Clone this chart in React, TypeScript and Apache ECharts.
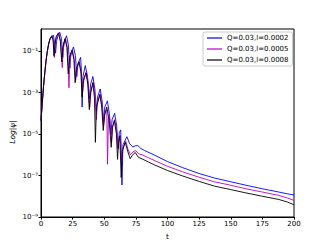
import React, { useEffect, useRef } from "react";
import * as echarts from "echarts";

const seriesNames = ["Q=0.03,l=0.0002", "Q=0.03,l=0.0005", "Q=0.03,l=0.0008"];
const seriesColors = ["#0000ff", "#bf00bf", "#000000"];
const xTicks = [0, 25, 50, 75, 100, 125, 150, 175, 200];

const blueData: [number, number][] = [
  [0, 4.5e-5], [1, 3e-4], [2, 2e-3], [3, 9e-3], [4, 3.4e-2], [5, 0.095], [6, 0.2], [7, 0.35],
  [8.5, 0.5], [9.8, 0.58], [10.8, 0.25], [11.5, 0.08], [12.3, 0.3], [13.5, 0.6], [14.8, 0.82],
  [16.2, 0.4], [17.2, 0.05], [18, 0.25], [20.2, 0.55], [21.6, 0.2], [22.8, 0.015], [23.6, 0.08],
  [25.7, 0.16], [27.2, 0.06], [28.3, 6e-3], [29.2, 0.025], [31.3, 0.05], [32, 0.01], [32.5, 2e-4],
  [33.2, 6e-3], [35, 2e-2], [36.8, 6e-3], [38.3, 5e-4], [39.2, 2.5e-3], [41, 6e-3], [42.6, 1.5e-3],
  [43.8, 1.2e-4], [44.7, 6e-4], [46.8, 1.5e-3], [48.3, 4e-4], [49.5, 4e-5], [50.4, 2e-4],
  [52.5, 4e-4], [54, 1e-4], [55.3, 1e-5], [56.2, 5e-5], [58.2, 1e-4], [59.8, 2.5e-5], [61, 2e-6],
  [61.9, 1.2e-5], [63, 1.6e-5], [64, 3.5e-8], [64.8, 3e-6], [67.9, 7.5e-6], [70, 3.5e-6],
  [72.5, 2.4e-6], [74.5, 2.7e-6], [76.5, 2.8e-6], [79, 2e-6], [82, 1.6e-6], [90, 9.5e-7],
  [100, 4.7e-7], [112, 2.4e-7], [125, 1.25e-7], [137, 7.6e-8], [150, 5e-8], [162, 3.4e-8],
  [175, 2.3e-8], [188, 1.6e-8], [195, 1.3e-8], [200, 1.15e-8],
];

const magentaData: [number, number][] = [
  [0, 4.5e-5], [1, 3e-4], [2, 2e-3], [3, 9e-3], [4, 3.5e-2], [5, 0.1], [6, 0.22], [7, 0.38],
  [8.7, 0.55], [9.7, 0.35], [10.5, 0.05], [11.2, 0.2], [12.2, 0.5], [14, 0.78], [15.5, 0.3],
  [16.8, 0.016], [17.5, 0.12], [19.3, 0.42], [20.8, 0.15], [22.1, 1.7e-3], [22.9, 0.04],
  [24.8, 0.12], [26.3, 0.04], [27.4, 4e-3], [28.4, 0.016], [30.3, 0.032], [31.8, 0.01],
  [32.9, 1e-3], [33.9, 4e-3], [35.8, 1e-2], [37.3, 2.8e-3], [38.5, 2e-4], [39.5, 1.1e-3],
  [41.3, 3.2e-3], [42.8, 6e-4], [43.8, 5e-5], [44.5, 3e-4], [46.8, 9e-4], [48.3, 2.2e-4],
  [49.5, 2.5e-5], [50.5, 1e-4], [52, 1.5e-4], [52.6, 3.5e-7], [53.3, 6e-5], [54.2, 7e-5],
  [55.8, 4e-6], [56.7, 2.5e-5], [58.3, 5e-5], [59.9, 1.2e-5], [60.8, 2e-6], [61.6, 6e-6],
  [62.6, 9e-6], [63.6, 5e-7], [64.5, 2e-6], [67, 4.5e-6], [68.8, 1.8e-6], [70.8, 1e-6],
  [72.8, 1.4e-6], [74.8, 1.6e-6], [77.3, 1.1e-6], [80, 1e-6], [85, 7.2e-7], [90, 5.2e-7],
  [100, 2.8e-7], [112, 1.5e-7], [125, 8.3e-8], [137, 5e-8], [150, 3.4e-8], [162, 2.3e-8],
  [175, 1.6e-8], [188, 1.1e-8], [195, 8.2e-9], [200, 6.3e-9],
];

const blackData: [number, number][] = [
  [0, 4.5e-5], [1, 3e-4], [2, 2e-3], [3, 9e-3], [4, 3.5e-2], [5, 0.1], [6, 0.22], [7, 0.38],
  [8.5, 0.55], [9.5, 0.35], [10.3, 0.06], [11, 0.2], [12, 0.5], [13.8, 0.75], [15.3, 0.3],
  [16.4, 0.03], [17.2, 0.15], [19, 0.4], [20.5, 0.15], [21.6, 0.008], [22.5, 0.05], [24.5, 0.11],
  [26, 0.04], [27, 3e-3], [28, 0.015], [30, 0.03], [31.5, 0.01], [32.5, 6e-4], [33.5, 4e-3],
  [35.5, 9e-3], [37, 2.5e-3], [38.2, 1.5e-4], [39.2, 1e-3], [41, 3e-3], [42.3, 5e-4], [43, 4e-6],
  [43.8, 2e-4], [46.5, 8e-4], [48, 2e-4], [49.2, 1.5e-5], [50.2, 8e-5], [52, 2e-4], [53.8, 5e-5],
  [55.5, 2.3e-6], [56.4, 2e-5], [58, 4.5e-5], [59.6, 1e-5], [60.5, 6e-7], [61.3, 4e-6],
  [62.3, 8e-6], [63.4, 8e-8], [64.3, 1.5e-6], [66.6, 4e-6], [68.5, 1.5e-6], [70.5, 6.5e-7],
  [72.5, 1e-6], [74.5, 1.3e-6], [77, 7.5e-7], [80, 6.3e-7], [85, 4.5e-7], [90, 3.2e-7],
  [100, 1.75e-7], [112, 9.5e-8], [125, 5.2e-8], [137, 3.1e-8], [150, 2.1e-8], [162, 1.45e-8],
  [175, 1.0e-8], [188, 7e-9], [195, 5.2e-9], [200, 3.9e-9],
];

const allData = [blueData, magentaData, blackData];

const SUP: Record<string, string> = {
  "-": "\u207B", "0": "\u2070", "1": "\u00B9", "2": "\u00B2", "3": "\u00B3", "4": "\u2074",
  "5": "\u2075", "6": "\u2076", "7": "\u2077", "8": "\u2078", "9": "\u2079",
};

function supLabel(v: number): string {
  const e = Math.round(Math.log10(v));
  if (e % 2 === 0) return "";
  return "10" + String(e).split("").map((c) => SUP[c] || c).join("");
}

export default function App() {
  const ref = useRef<HTMLDivElement>(null);
  useEffect(() => {
    if (!ref.current) return;
    const chart = echarts.init(ref.current, null, { renderer: "svg" });
    const font = "DejaVu Sans";
    chart.setOption({
      animation: false,
      backgroundColor: "#ffffff",
      grid: {
        left: 41, top: 29, width: 253, height: 189,
        show: true, borderColor: "#000", borderWidth: 1, backgroundColor: "transparent",
      },
      legend: {
        orient: "vertical",
        left: 203, top: 32,
        data: seriesNames,
        icon: "rect",
        itemWidth: 15, itemHeight: 1.2,
        itemGap: 3,
        padding: [2, 4, 2, 4],
        borderColor: "#cccccc", borderWidth: 1, borderRadius: 2,
        backgroundColor: "#ffffff",
        textStyle: { fontFamily: font, fontSize: 7, color: "#000", lineHeight: 8, padding: [0, 0, 0, 0] },
      },
      xAxis: {
        type: "value", min: 0, max: 200, interval: 25,
        name: "t", nameLocation: "middle", nameGap: 15,
        nameTextStyle: { fontFamily: font, fontSize: 7.5, color: "#000" },
        axisLine: { show: true, lineStyle: { color: "#000", width: 1 } },
        axisTick: { show: true, length: 2.5, lineStyle: { color: "#000" } },
        axisLabel: { fontFamily: font, fontSize: 7, color: "#000", margin: 3 },
        splitLine: { show: false },
      },
      yAxis: {
        type: "log", logBase: 10, min: 1e-9, max: 1.17, interval: 2,
        axisLine: { show: true, lineStyle: { color: "#000", width: 1 } },
        axisTick: { show: true, length: 2.5, lineStyle: { color: "#000" } },
        axisLabel: {
          fontFamily: font, fontSize: 7, color: "#000", margin: 3,
          showMaxLabel: false, formatter: (v: number) => supLabel(v),
        },
        splitLine: { show: false },
      },
      graphic: [
        {
          type: "text", x: 12, y: 132, rotation: Math.PI / 2,
          style: {
            text: "Log|\u03C8|", fontFamily: font, fontStyle: "italic", fontSize: 7.5,
            fill: "#000", align: "center", verticalAlign: "middle",
          },
        },
      ],
      series: seriesNames.map((name, i) => ({
        name, type: "line", data: allData[i], showSymbol: false, symbol: "none",
        lineStyle: { color: seriesColors[i], width: 0.9 },
        itemStyle: { color: seriesColors[i] },
        z: 2 + i,
      })),
    });
    return () => chart.dispose();
  }, []);
  return (
    <div ref={ref} style={{ position: "fixed", left: 0, top: 0, width: 327, height: 245 }} />
  );
}
